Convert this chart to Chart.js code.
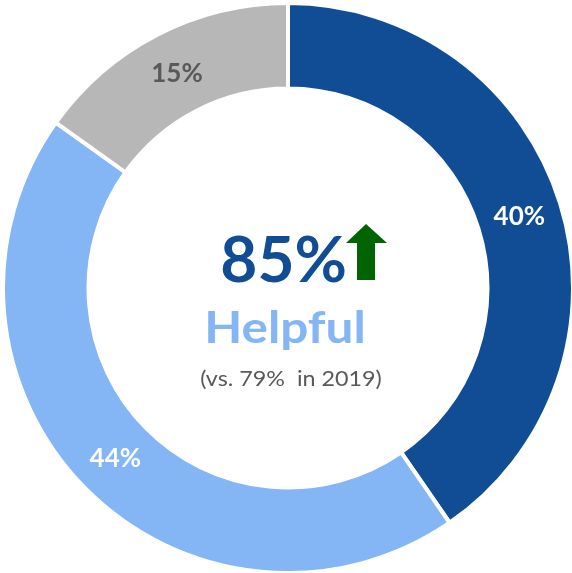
<!DOCTYPE html>
<html>
<head>
<meta charset="utf-8">
<script src="https://cdn.jsdelivr.net/npm/chart.js@4"></script>
<style>
  html, body { margin: 0; padding: 0; background: #fff; overflow: hidden; }
  #wrap { position: absolute; left: 1px; top: 1px; width: 574px; height: 574px; }
</style>
</head>
<body>
<div id="wrap"><canvas id="donut"></canvas></div>
<script>
const categories = ["Very helpful", "Somewhat helpful", "Not helpful"];
const shares = [40, 44, 15];
const sliceColors = ["#114D95", "#84B5F4", "#B7B7B7"];
const labelColors = ["#ffffff", "#ffffff", "#595959"];
const headline = "85%";
const headlineLabel = "Helpful";
const comparison = "(vs. 79%  in 2019)";

const FONT = "'Century Gothic', Lato, 'Noto Sans', sans-serif";

// draw text stretched a bit wider, Century Gothic is broader than Lato
function wideText(ctx, text, x, y, sx) {
  ctx.save();
  ctx.translate(x, y);
  ctx.scale(sx, 1);
  ctx.fillText(text, 0, 0);
  ctx.restore();
}

const sliceLabels = {
  id: "sliceLabels",
  afterDatasetsDraw(chart) {
    const ctx = chart.ctx;
    const arcs = chart.getDatasetMeta(0).data;
    ctx.save();
    ctx.font = "bold 26px " + FONT;
    ctx.textAlign = "center";
    ctx.textBaseline = "middle";
    arcs.forEach((arc, i) => {
      const p = arc.tooltipPosition();
      ctx.fillStyle = labelColors[i];
      ctx.fillText(shares[i] + "%", p.x, p.y + 1);
    });
    ctx.restore();
  },
};

const centerText = {
  id: "centerText",
  afterDraw(chart) {
    const ctx = chart.ctx;
    const arc = chart.getDatasetMeta(0).data[0];
    const cx = arc.x;
    const cy = arc.y;
    ctx.save();
    ctx.textBaseline = "alphabetic";

    // big number
    ctx.font = "bold 64px " + FONT;
    ctx.fillStyle = "#114D95";
    ctx.textAlign = "right";
    ctx.fillText(headline, cx + 59, cy - 6);

    // up arrow
    ctx.fillStyle = "#006400";
    ctx.beginPath();
    ctx.moveTo(cx + 69, cy - 45);
    ctx.lineTo(cx + 87, cy - 45);
    ctx.lineTo(cx + 87, cy - 8);
    ctx.lineTo(cx + 69, cy - 8);
    ctx.closePath();
    ctx.fill();
    ctx.beginPath();
    ctx.moveTo(cx + 58, cy - 45);
    ctx.lineTo(cx + 78, cy - 64);
    ctx.lineTo(cx + 99, cy - 45);
    ctx.closePath();
    ctx.fill();

    ctx.textAlign = "center";
    ctx.font = "bold 43px " + FONT;
    ctx.fillStyle = "#84B5F4";
    wideText(ctx, headlineLabel, cx - 3, cy + 55, 1.15);

    ctx.font = "22px " + FONT;
    ctx.fillStyle = "#595959";
    wideText(ctx, comparison, cx + 3, cy + 98, 1.06);
    ctx.restore();
  },
};

new Chart(document.getElementById("donut").getContext("2d"), {
  type: "doughnut",
  data: {
    labels: categories,
    datasets: [
      {
        data: shares,
        backgroundColor: sliceColors,
        borderColor: "#ffffff",
        borderWidth: 4,
      },
    ],
  },
  options: {
    responsive: true,
    maintainAspectRatio: false,
    animation: false,
    cutout: "70%",
    plugins: {
      legend: { display: false },
      tooltip: { enabled: false },
    },
  },
  plugins: [sliceLabels, centerText],
});
</script>
</body>
</html>
